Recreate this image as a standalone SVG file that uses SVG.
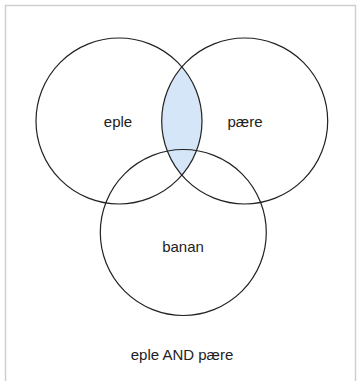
<svg xmlns="http://www.w3.org/2000/svg" width="361" height="381" viewBox="0 0 361 381">
<style>
.c{fill:none;stroke:#222;stroke-width:1.2}
.t{font-family:"Liberation Sans","Open Sans",sans-serif;font-size:15px;fill:#222;text-anchor:middle}
</style>
<rect x="0" y="0" width="361" height="381" fill="#fff"/>
<rect x="5.5" y="5.5" width="350" height="380" fill="none" stroke="#cfcfcf" stroke-width="1.5"/>
<path id="lens" d="M181.85 66.8 A83 83 0 0 1 181.85 175.2 A83 83 0 0 1 181.85 66.8 Z" fill="#d4e6f7"/>
<g id="eple"><circle class="c" cx="119" cy="121" r="83"/><text class="t" x="118" y="127">eple</text></g>
<g id="paere"><circle class="c" cx="244.7" cy="121" r="83"/><text class="t" x="245" y="127">pære</text></g>
<g id="banan"><circle class="c" cx="183.3" cy="232.5" r="83"/><text class="t" x="183" y="252">banan</text></g>
<text class="t" x="182" y="360">eple AND pære</text>
</svg>
